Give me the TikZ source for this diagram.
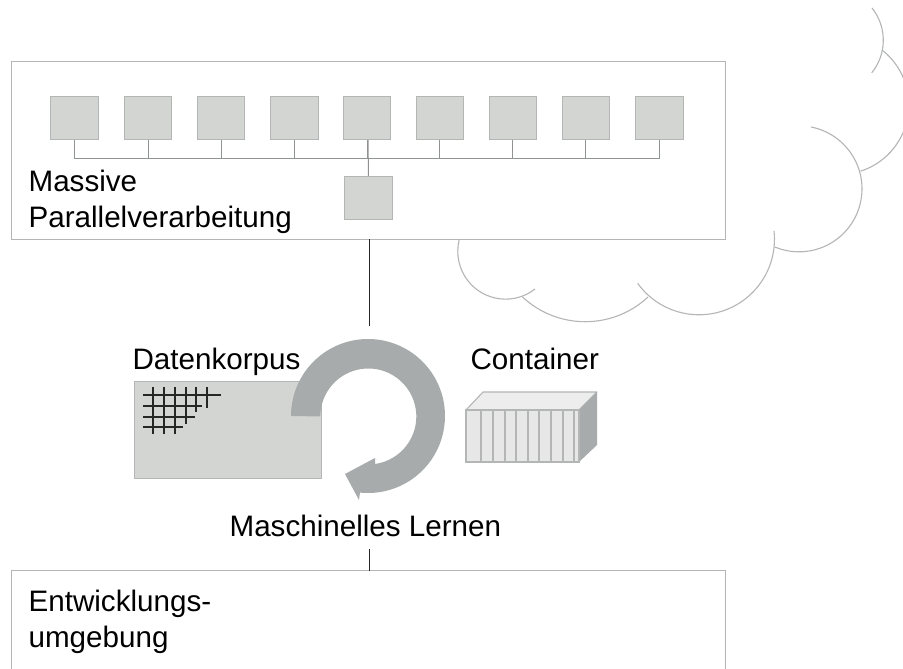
\documentclass[tikz,border=0pt]{standalone}
\usepackage{fontspec}
\setmainfont{Liberation Sans}
\definecolor{edgegray}{HTML}{B3B6B4}
\definecolor{boxfill}{HTML}{D3D5D3}
\definecolor{arrowgray}{HTML}{A8ABAB}
\definecolor{contfill}{HTML}{E6E7E6}
\definecolor{conttop}{HTML}{ECEDEC}
\definecolor{busgray}{HTML}{8F9392}
\tikzset{
  every picture/.style={x=1pt,y=1pt},
  panel/.style={draw=edgegray,line width=1pt,fill=white,minimum width=714pt,inner sep=0pt,anchor=north west},
  unit/.style={draw=edgegray,line width=1pt,fill=boxfill,minimum width=47.4pt,minimum height=43.2pt,inner sep=0pt,anchor=north west},
  busline/.style={draw=busgray,line width=1pt},
  link/.style={draw=black!85,line width=0.8pt},
  cloudline/.style={draw=edgegray,line width=1.1pt},
  label/.style={anchor=base west,inner sep=0pt,font=\fontsize{29.6}{29.6}\selectfont,text=black},
  gridline/.style={draw=black!85,line width=1.2pt},
  slat/.style={draw=edgegray,line width=1.3pt}
}
\begin{document}
\begin{tikzpicture}
\useasboundingbox (0,0) rectangle (903,-669);
\fill[white] (0,0) rectangle (903,-669);
% cloud
\draw[cloudline] (872,-8) arc[start angle=38.6,end angle=-39,radius=51.7];
\draw[cloudline] (882,-50) arc[start angle=52,end angle=-72,radius=69.7];
\draw[cloudline] (811,-127) arc[start angle=79,end angle=-112.5,radius=63];
\draw[cloudline] (774,-231) arc[start angle=6.3,end angle=-144.3,radius=75.5];
\draw[cloudline] (648,-297) arc[start angle=-47,end angle=-133,radius=92];
\draw[cloudline] (535,-289) arc[start angle=-52,end angle=-194,radius=47.8];
% top panel
\node[panel,minimum height=178pt] (top) at (11,-61) {};
\foreach \n/\x in {1/50.2,2/124,3/196.8,4/270.2,5/342.8,6/415.6,7/488.6,8/561.6,9/635.4}
  \node[unit] (s\n) at (\x,-96) {};
\node[unit] (hub) at (344.3,-176) {};
\coordinate (busL) at (74,-158);
\coordinate (busR) at (660,-158);
\draw[busline] (busL) -- (busR);
\foreach \n in {1,2,3,4,5,6,7,8,9}
  \draw[busline] (s\n.south) -- (s\n.south |- busL);
\draw[busline] (s5.south) ++(1,0) -- (hub.north);
\node[label] (massive) at (28.4,-191) {Massive};
\node[label] (parallel) at (28.4,-227) {Parallelverarbeitung};
% bottom panel
\coordinate (ba) at (11,-570.5);
\coordinate (bb) at (725,-570.5);
\coordinate (baE) at (11,-669);
\coordinate (bbE) at (725,-669);
\draw[edgegray,line width=1pt] (baE) -- (ba) -- (bb) -- (bbE);
\node[label] (entw) at (28.4,-611) {Entwicklungs-};
\node[label] (umg) at (28.4,-647) {umgebung};
% data corpus
\node[draw=edgegray,line width=1pt,fill=boxfill,minimum width=187pt,minimum height=97pt,inner sep=0pt,anchor=north west] (corpus) at (134,-381) {};
\foreach \x/\e in {153/434,164/434,175/434,186/424,196/412,207/408}
  \draw[gridline] (\x,-387) -- (\x,-\e);
\foreach \y/\e in {395/221,406/202,417/195,427/183}
  \draw[gridline] (143,-\y) -- (\e,-\y);
% circular arrow
\fill[arrowgray] (291,-416) arc[start angle=180,end angle=-96,radius=77]
  -- (359,-500) -- (345,-474) -- (375,-458) -- (375,-464)
  arc[start angle=-82,end angle=180,radius=48] -- cycle;
% container
\fill[contfill] (466,-410) rectangle (579,-462);
\draw[edgegray,line width=1.1pt,fill=conttop,line join=round] (466,-410) -- (483,-392) -- (597,-392) -- (579,-410) -- cycle;
\fill[arrowgray] (579,-410) -- (597,-392) -- (597,-445) -- (579,-462) -- cycle;
\draw[slat] (466,-410) rectangle (579,-462);
\foreach \x in {481,493,505,516,528,539,551,563,574}
  \draw[slat] (\x,-410) -- (\x,-462);
\node[label] (dk) at (132.4,-369) {Datenkorpus};
\node[label] (cont) at (470.4,-369) {Container};
\node[label] (ml) at (229.4,-536) {Maschinelles Lernen};
% connectors
\coordinate (upEnd) at (369,-326);
\coordinate (lowStart) at (369,-549);
\draw[link] (369,-239) -- (upEnd);
\draw[link] (lowStart) -- (369,-571);
\end{tikzpicture}
\end{document}
